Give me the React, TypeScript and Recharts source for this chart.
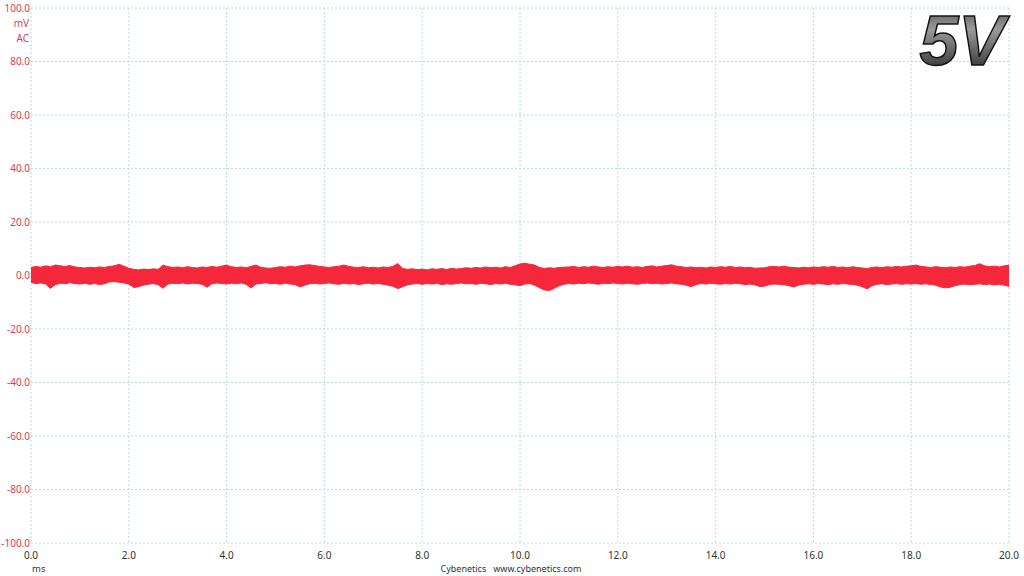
import React from "react";
import { ComposedChart, Area, XAxis, YAxis, CartesianGrid } from "recharts";

// sample spacing of the envelope (ms)
const SAMPLE_STEP_MS = 0.1;

// upper envelope of the ripple trace (mV), one value per 0.1 ms, 0.0 .. 20.0 ms
const rippleHigh: number[] = [
  3.0, 3.4, 3.1, 3.6, 3.3, 3.9, 3.6, 3.4, 3.7, 3.2,
  3.0, 2.8, 3.1, 2.9, 3.2, 3.0, 3.4, 3.6, 4.2, 3.5,
  2.7, 2.3, 2.1, 2.4, 2.2, 2.5, 2.3, 3.9, 3.3, 3.0,
  3.2, 2.9, 3.3, 3.0, 2.8, 3.2, 3.0, 3.4, 3.1, 3.5,
  3.9, 3.3, 3.0, 3.2, 2.9, 3.4, 3.9, 3.1, 2.8, 2.7,
  3.0, 3.3, 3.1, 3.5, 3.2, 3.6, 3.9, 4.0, 3.7, 3.4,
  3.2, 3.0, 3.3, 3.5, 3.9, 3.4, 3.1, 3.0, 3.3, 2.9,
  3.1, 2.8, 3.2, 3.0, 3.4, 4.5, 2.6, 2.3, 2.5, 2.2,
  2.4, 2.1, 2.5, 2.3, 2.6, 2.2, 2.7, 2.4, 2.6, 2.9,
  2.7, 3.0, 2.8, 3.2, 2.9, 3.1, 2.8, 3.3, 3.0, 3.6,
  4.3, 4.6, 4.2, 3.9, 3.0, 2.6, 2.9, 2.7, 3.0, 3.1,
  3.2, 3.4, 3.0, 3.3, 3.1, 3.5, 3.2, 3.0, 3.3, 3.1,
  3.4, 3.2, 3.5, 3.1, 3.3, 3.0, 3.4, 3.6, 3.2, 3.5,
  3.7, 4.0, 3.5, 3.3, 3.0, 3.2, 2.9, 3.1, 2.8, 3.2,
  3.0, 3.3, 3.1, 3.4, 3.0, 3.2, 2.9, 3.1, 2.7, 2.8,
  2.9, 3.3, 3.4, 3.2, 3.5, 3.1, 3.0, 2.8, 3.1, 2.9,
  3.2, 3.0, 3.3, 3.1, 3.4, 3.0, 3.2, 2.9, 3.3, 3.0,
  2.8, 2.6, 3.0, 3.2, 2.9, 3.3, 3.1, 3.4, 3.2, 3.5,
  3.6, 3.9, 3.4, 3.2, 3.0, 3.3, 3.1, 2.9, 3.2, 3.0,
  3.3, 3.1, 3.5, 3.7, 4.4, 3.6, 3.3, 3.5, 3.2, 3.6,
  3.9,
];

// lower envelope of the ripple trace (mV)
const rippleLow: number[] = [
  -2.6, -3.0, -2.8, -3.2, -4.8, -3.4, -2.9, -3.1, -2.7, -3.0,
  -3.2, -2.9, -3.3, -3.0, -3.4, -3.1, -2.4, -2.3, -2.5, -2.8,
  -3.2, -4.5, -4.2, -3.6, -3.3, -3.0, -3.4, -4.8, -3.2, -2.9,
  -3.1, -2.8, -3.2, -2.9, -3.0, -3.3, -4.4, -3.1, -2.8, -3.0,
  -3.2, -2.9, -3.1, -2.8, -3.3, -4.7, -3.2, -3.0, -2.7, -3.1,
  -3.0, -3.3, -2.9, -3.2, -3.4, -4.3, -3.6, -3.1, -2.9, -3.2,
  -3.0, -2.8, -3.1, -3.3, -2.9, -3.2, -3.0, -3.4, -3.1, -2.9,
  -3.2, -3.0, -3.3, -3.6, -4.0, -4.9, -4.2, -3.5, -3.2, -3.0,
  -3.3, -3.0, -3.2, -2.9, -3.4, -3.1, -3.3, -3.0, -2.8, -3.1,
  -3.0, -3.3, -2.9, -3.1, -3.4, -3.0, -3.2, -2.9, -3.3, -3.5,
  -3.8, -3.2, -3.0, -3.6, -4.6, -5.4, -5.6, -4.8, -3.8, -3.3,
  -3.0, -3.2, -2.9, -3.1, -2.8, -3.0, -3.3, -2.9, -3.1, -2.8,
  -3.0, -3.2, -2.9, -3.1, -3.3, -3.0, -2.8, -3.1, -2.9, -3.2,
  -3.0, -2.8, -3.1, -3.3, -3.6, -4.2, -3.4, -3.0, -3.2, -2.9,
  -3.1, -3.3, -3.0, -3.2, -2.9, -3.1, -3.4, -3.2, -3.5, -4.1,
  -4.0, -3.4, -3.2, -3.3, -3.5, -3.8, -4.3, -3.6, -3.3, -3.1,
  -3.3, -3.0, -3.2, -3.4, -3.1, -3.3, -3.0, -3.2, -3.4, -3.6,
  -4.2, -5.0, -3.8, -3.3, -3.1, -3.4, -3.2, -3.0, -3.3, -3.1,
  -3.2, -3.0, -3.3, -3.1, -3.4, -3.6, -4.3, -4.6, -4.4, -3.8,
  -3.4, -3.2, -3.5, -3.3, -3.1, -3.4, -3.2, -3.5, -3.3, -3.6,
  -4.1,
];

const xTicks: number[] = [0, 2, 4, 6, 8, 10, 12, 14, 16, 18, 20];
const yTicks: number[] = [-100, -80, -60, -40, -20, 0, 20, 40, 60, 80, 100];

const yUnitLabels: string[] = ["mV", "AC"];
const xUnitLabel = "ms";
const footerText = "Cybenetics\u00a0\u00a0\u00a0www.cybenetics.com";
const railLabel = "5V";

const data = rippleHigh.map((hi, i) => ({
  t: Math.round(i * SAMPLE_STEP_MS * 10) / 10,
  range: [rippleLow[i], hi],
}));

const FONT = "'Noto Sans', 'Open Sans', sans-serif";
const TRACE = "#f4283a";
const YLABEL = "#dc3c57";

export default function App() {
  return (
    <div style={{ position: "absolute", left: 0, top: 0, width: 1024, height: 576, background: "#fff", fontFamily: FONT }}>
      <ComposedChart
        width={1024}
        height={576}
        data={data}
        margin={{ top: 8, right: 15, bottom: 0, left: 0 }}
      >
        <CartesianGrid stroke="#b6dce8" strokeDasharray="2 2" />
        <XAxis
          dataKey="t"
          type="number"
          domain={[0, 20]}
          ticks={xTicks}
          interval={0}
          height={33}
          axisLine={false}
          tickLine={false}
          tickSize={4}
          tickMargin={5}
          tickFormatter={(v: number) => v.toFixed(1)}
          tick={{ fill: "#333", fontSize: 10, fontFamily: FONT }}
        />
        <YAxis
          type="number"
          domain={[-100, 100]}
          ticks={yTicks}
          interval={0}
          width={31}
          axisLine={false}
          tickLine={false}
          tickSize={0}
          tickMargin={1}
          tickFormatter={(v: number) => v.toFixed(1)}
          tick={{ fill: YLABEL, fontSize: 10, fontFamily: FONT }}
        />
        <Area
          dataKey="range"
          type="linear"
          stroke={TRACE}
          strokeWidth={1}
          fill={TRACE}
          fillOpacity={1}
          isAnimationActive={false}
          dot={false}
          activeDot={false}
        />
      </ComposedChart>

      {yUnitLabels.map((s, i) => (
        <div
          key={s}
          style={{
            position: "absolute",
            right: 1024 - 29,
            top: 16 + i * 15,
            fontSize: 10,
            lineHeight: "14px",
            color: YLABEL,
            textAlign: "right",
          }}
        >
          {s}
        </div>
      ))}
      <div style={{ position: "absolute", left: 32, top: 562, fontSize: 9.5, lineHeight: "14px", color: "#333" }}>
        {xUnitLabel}
      </div>
      <div
        style={{
          position: "absolute",
          left: 311,
          width: 400,
          top: 562,
          fontSize: 9,
          lineHeight: "14px",
          color: "#333",
          textAlign: "center",
        }}
      >
        {footerText}
      </div>
      <svg style={{ position: "absolute", left: 900, top: 0 }} width={124} height={80}>
        <defs>
          <linearGradient id="vgrad" x1="0" y1="0" x2="0" y2="1">
            <stop offset="0" stopColor="#4a4a4a" />
            <stop offset="0.35" stopColor="#9a9a9a" />
            <stop offset="0.6" stopColor="#6a6a6a" />
            <stop offset="1" stopColor="#1e1e1e" />
          </linearGradient>
        </defs>
        <text
          x={105}
          y={65}
          textAnchor="end"
          fontFamily="'Liberation Sans', Arial, sans-serif"
          fontWeight="bold"
          fontStyle="italic"
          fontSize={70}
          fill="url(#vgrad)"
          stroke="#111"
          strokeWidth={1.5}
        >
          {railLabel}
        </text>
      </svg>
    </div>
  );
}
